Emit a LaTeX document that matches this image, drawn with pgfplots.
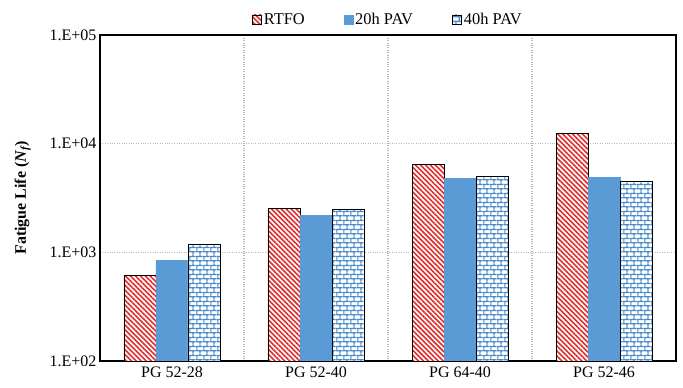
\documentclass[border=0pt]{standalone}
\usepackage{pgfplots}
\pgfplotsset{compat=1.18}
\usepackage{fontspec}
\setmainfont{Liberation Serif}
\usetikzlibrary{patterns,patterns.meta}
\definecolor{pavblue}{HTML}{5B9BD5}
\definecolor{brickblue}{HTML}{4A8CCB}
\definecolor{stripered}{HTML}{E02E2E}
\tikzdeclarepattern{
  name=mybricks,
  type=uncolored,
  bottom left={(0bp,0bp)},
  top right={(7bp,8.8bp)},
  tile size={(7bp,8.8bp)},
  code={
    \draw[line width=1.3bp] (-0.5bp,2.2bp) -- (7.5bp,2.2bp) (-0.5bp,6.6bp) -- (7.5bp,6.6bp)
      (1bp,2.2bp) -- (1bp,6.6bp) (4.5bp,6.6bp) -- (4.5bp,8.8bp) (4.5bp,0bp) -- (4.5bp,2.2bp);
  }
}
\begin{document}
\begin{tikzpicture}
\begin{axis}[
  scale only axis,
  width=576bp, height=326bp,
  ymode=log,
  ymin=100, ymax=100000,
  log origin=infty,
  xmin=-0.5, xmax=3.5,
  xtick={0,1,2,3},
  xticklabels={PG 52-28,PG 52-40,PG 64-40,PG 52-46},
  minor xtick={0.5,1.5,2.5},
  ytick={100,1000,10000,100000},
  yticklabels={1.E+02,1.E+03,1.E+04,1.E+05},
  yminorticks=false,
  major tick length=0pt, minor tick length=0pt,
  ymajorgrids, xminorgrids,
  major grid style={dotted, gray!55, line width=1.2pt},
  minor grid style={dotted, gray!55, line width=1.2pt},
  axis line style={black, line width=1.1pt},
  ybar=0pt, bar width=32bp,
  ylabel={\textbf{Fatigue Life (}\textbf{\textit{N\textsubscript{f}}}\textbf{)}},
  ylabel style={font=\fontsize{16bp}{19bp}\selectfont, yshift=12bp},
  tick label style={font=\fontsize{16bp}{19bp}\selectfont},
  xticklabel style={yshift=-2bp},
  legend style={at={(0.5,1.015)}, anchor=south, draw=none, legend columns=3,
    font=\fontsize{16.4bp}{19bp}\selectfont, /tikz/every even column/.append style={column sep=37bp}},
  legend image code/.code={\draw[#1] (0bp,-4.5bp) rectangle (9bp,4.5bp);},
]
\addplot[draw=black, line width=0.7pt, fill=white,
  postaction={pattern={Lines[angle=-45,distance=3.5bp,line width=1.6bp]}, pattern color=stripered}]
  coordinates {(0,611) (1,2524) (2,6450) (3,12360)};
\addlegendentry{RTFO}
\addplot[draw=pavblue, fill=pavblue]
  coordinates {(0,844) (1,2175) (2,4795) (3,4870)};
\addlegendentry{20h PAV}
\addplot[draw=black, line width=0.9pt, fill=white,
  postaction={pattern=mybricks, pattern color=brickblue}]
  coordinates {(0,1170) (1,2470) (2,4940) (3,4500)};
\addlegendentry{40h PAV}
\end{axis}
\path ([xshift=-100bp,yshift=-27bp]current axis.south west) rectangle ([xshift=7bp,yshift=35bp]current axis.north east);
\end{tikzpicture}
\end{document}
